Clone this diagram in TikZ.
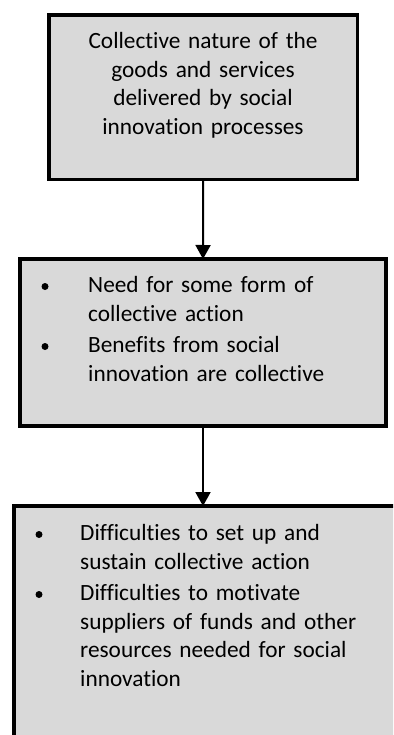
\documentclass[tikz,border=0pt]{standalone}
\usepackage{fontspec}
\setmainfont{Carlito}[Ligatures=NoCommon]
\usetikzlibrary{arrows.meta,positioning}
\definecolor{boxgray}{RGB}{217,217,217}

\begin{document}
\begin{tikzpicture}[x=1pt, y=-1pt,
    box/.style={draw, rectangle, line width=3.5pt, fill=boxgray, outer sep=0pt, inner sep=0pt},
    txt/.style={inner sep=0pt, font=\fontsize{23.3}{28.7}\selectfont},
    dot/.style={circle, fill, inner sep=0pt, minimum size=7pt},
    arrow/.style={-{Triangle[width=15pt, length=14pt]}, line width=2pt}
]
\useasboundingbox (0,0) rectangle (393,735);
\clip (0,0) rectangle (393,735);

% Kaesten
\node[box, minimum width=308.5pt, minimum height=164.5pt] (nature) at (203.25,97.25) {};
\node[box, minimum width=366pt, minimum height=167pt] (action) at (203,342.5) {};
\node[box, minimum width=384pt, minimum height=254pt] (problems) at (206,633) {};

% Texte
\node[txt, text width=290pt, align=center, anchor=base] (naturetext) at (203,48.4)
    {Collective nature of the\\ goods and services\\ delivered by social\\ innovation processes};

\node[dot] (dota) at (45,286.5) {};
\node[txt, text width=290pt, align=left, anchor=base west] (needtext) at (88,292.4)
    {Need for some form of\\ collective action};
\node[dot] (dotb) at (45,346.5) {};
\node[txt, text width=290pt, align=left, anchor=base west] (benefittext) at (88,352.4)
    {Benefits from social\\ innovation are collective};

\node[dot] (dotc) at (39,534.5) {};
\node[txt, text width=300pt, align=left, anchor=base west] (setuptext) at (80,540.4)
    {Difficulties to set up and\\ sustain collective action};
\node[dot] (dotd) at (39,594.5) {};
\node[txt, text width=300pt, align=left, anchor=base west] (motivtext) at (80,600.4)
    {Difficulties to motivate\\ suppliers of funds and other\\ resources needed for social\\ innovation};

% Pfeile
\draw[arrow] (nature.south) -- (action.north);
\draw[arrow] (action.south) -- (action.south |- problems.north);

\end{tikzpicture}
\end{document}
